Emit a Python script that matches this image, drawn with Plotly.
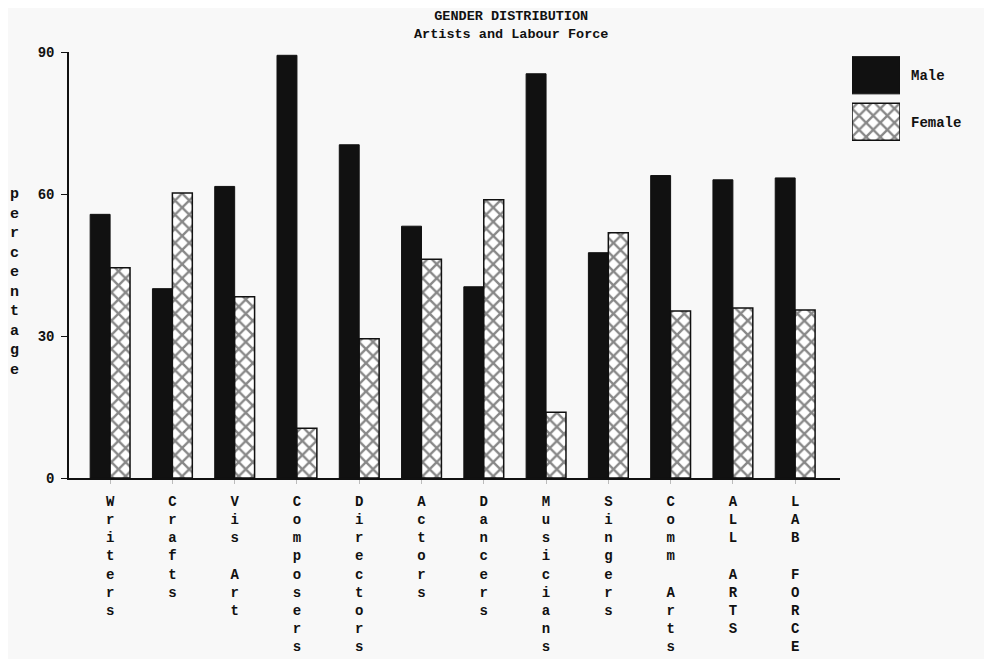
import plotly.graph_objects as go

categories = ["Writers", "Crafts", "Vis Art", "Composers", "Directors", "Actors",
              "Dancers", "Musicians", "Singers", "Comm Arts", "ALL ARTS", "LAB FORCE"]
male = [55.7, 40.0, 61.6, 89.3, 70.4, 53.2, 40.4, 85.4, 47.6, 63.9, 63.0, 63.4]
female = [44.4, 60.2, 38.3, 10.5, 29.4, 46.2, 58.8, 13.9, 51.8, 35.3, 35.9, 35.5]
y_ticks = [0, 30, 60, 90]
legend_labels = ["Male", "Female"]
legend_swatch = [1, 1]

FONT = "Liberation Mono"
INK = "#111111"
BG = "#f8f8f8"

def stack(s):
    return "<br>".join("<b>%s</b>" % c if c != " " else " " for c in s)

# page is offset by the 8px body margin
OFF = 8
W, H = 992 - OFF, 659 - OFF
ml, mr, mt = 69 - OFF, 10, 52 - OFF
plot_bottom = 478 - OFF
mb = H - plot_bottom
pw = W - ml - mr
ph = plot_bottom - mt

def px_x(page_x):
    return (page_x - OFF - ml) / pw

def px_y(page_y):
    return (plot_bottom - (page_y - OFF)) / ph

PATTERN = dict(shape="x", fgcolor=INK, bgcolor="white", size=10, solidity=0.42)

fig = go.Figure()
fig.add_trace(go.Bar(
    x=categories, y=male, name="Male",
    marker=dict(color=INK, line=dict(color=INK, width=1)),
    xaxis="x", yaxis="y", showlegend=False,
))
fig.add_trace(go.Bar(
    x=categories, y=female, name="Female",
    marker=dict(color="white", line=dict(color=INK, width=1.5), pattern=PATTERN),
    xaxis="x", yaxis="y", showlegend=False,
))

# legend swatches drawn as a tiny bar chart
fig.add_trace(go.Bar(
    y=legend_labels[:1], x=legend_swatch[:1], orientation="h", width=0.8,
    marker=dict(color=INK, line=dict(color=INK, width=1)),
    xaxis="x2", yaxis="y2", showlegend=False, hoverinfo="skip",
))
fig.add_trace(go.Bar(
    y=legend_labels[1:], x=legend_swatch[1:], orientation="h", width=0.8,
    marker=dict(color="white", line=dict(color=INK, width=1.5), pattern=PATTERN),
    xaxis="x2", yaxis="y2", showlegend=False, hoverinfo="skip",
))

fig.update_layout(
    width=W, height=H,
    margin=dict(l=ml, r=mr, t=mt, b=mb, autoexpand=False),
    paper_bgcolor=BG, plot_bgcolor=BG,
    barmode="group", bargap=0.36, bargroupgap=0,
    font=dict(family=FONT, color=INK, size=13),
    xaxis=dict(
        domain=[0, px_x(840)],
        type="category", automargin=False,
        range=[-0.66, 11.72],
        tickmode="array", tickvals=categories,
        ticktext=[stack(c) for c in categories],
        tickangle=0,
        tickfont=dict(family=FONT, size=14, color=INK),
        ticklabelstandoff=5,
        showline=True, linecolor=INK, linewidth=2,
        ticks="outside", ticklen=4, tickcolor="#bbbbbb",
        showgrid=False, zeroline=False, fixedrange=True,
    ),
    yaxis=dict(
        domain=[0, 1], automargin=False,
        range=[0, 90],
        tickmode="array", tickvals=y_ticks,
        ticktext=["<b>%d</b>" % v for v in y_ticks],
        tickfont=dict(family=FONT, size=14, color=INK),
        ticklabelstandoff=4,
        showline=True, linecolor=INK, linewidth=1.5,
        ticks="outside", ticklen=6, tickcolor=INK,
        showgrid=False, zeroline=False, fixedrange=True,
    ),
    xaxis2=dict(
        domain=[px_x(852), px_x(900)], automargin=False,
        anchor="y2", range=[0, 1],
        showticklabels=False, showline=False, showgrid=False, zeroline=False,
        fixedrange=True,
    ),
    yaxis2=dict(
        domain=[px_y(145), px_y(52)], automargin=False,
        anchor="x2", side="right", type="category",
        categoryorder="array", categoryarray=legend_labels[::-1],
        tickvals=legend_labels[::-1],
        ticktext=["<b>%s</b>" % s for s in legend_labels[::-1]],
        tickfont=dict(family=FONT, size=14, color=INK),
        ticklabelstandoff=10,
        showline=False, showgrid=False, zeroline=False, ticks="",
        fixedrange=True,
    ),
    annotations=[
        dict(text=stack("percentage"), xref="paper", yref="paper",
             x=px_x(14), y=px_y(282), xanchor="center", yanchor="middle",
             showarrow=False, font=dict(family=FONT, size=15, color=INK)),
        dict(text="<b>GENDER DISTRIBUTION</b><br><b>Artists and Labour Force</b>",
             xref="paper", yref="paper",
             x=px_x(511), y=px_y(25), xanchor="center", yanchor="middle",
             showarrow=False, font=dict(family=FONT, size=13.5, color=INK)),
    ],
)

fig.write_html("out.html")
